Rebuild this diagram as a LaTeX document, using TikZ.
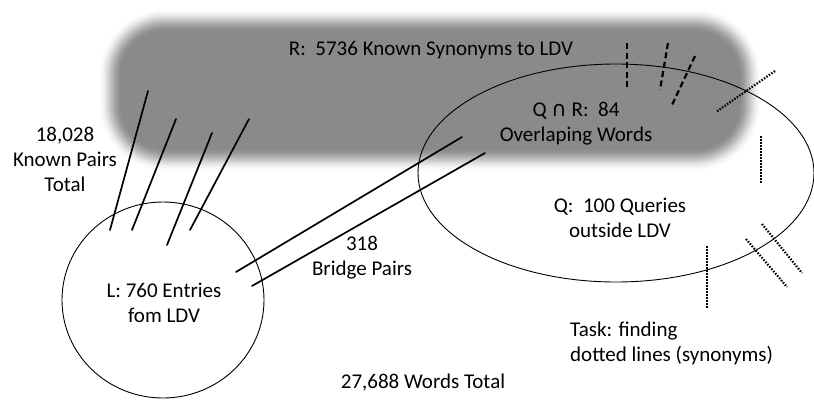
\documentclass[tikz,border=0pt]{standalone}
\usepackage{fontspec}
\setmainfont{Carlito}
\newfontfamily\symfont{DejaVu Sans}

\begin{document}
\begin{tikzpicture}[x=1pt, y=-1pt,
    lbl/.style={font=\fontsize{21}{25}\selectfont, align=center, inner sep=0pt},
    setline/.style={line width=0.9pt},
    pairline/.style={line width=1.7pt, line cap=round},
    knownline/.style={line width=2.2pt, dash pattern=on 6pt off 3.5pt},
    taskline/.style={line width=2.2pt, dash pattern=on 1.5pt off 1.5pt}]
  \useasboundingbox (0,0) rectangle (814,402);

  % R: known synonyms (soft grey band)
  \foreach \k [evaluate=\k as \p using 46*(\k/24)^2*(3-2*\k/24),
               evaluate=\k as \r using 67-\k] in {0,...,24}
    \fill[black!\p, rounded corners=\r pt] (98+\k,8+\k) rectangle (762-\k,172-\k);
  \node[lbl] (rtxt) at (431,50) {R:\ \ 5736 Known Synonyms to LDV};

  % L and Q sets
  \draw[setline] (163,300) ellipse [x radius=101, y radius=98];
  \draw[setline] (616,173) ellipse [x radius=198, y radius=109];

  % Known pairs
  \draw[pairline] (148,91) -- (110,230);
  \draw[pairline] (176,119) -- (132,230);
  \draw[pairline] (212,133) -- (167,245);
  \draw[pairline] (249,119) -- (190,230);

  % Bridge pairs
  \draw[pairline] (462,137) -- (236,272);
  \draw[pairline] (485,153) -- (252,286);

  % Overlap pairs
  \draw[knownline] (627,43) -- (627,90);
  \draw[knownline] (668,43) -- (660,90);
  \draw[knownline] (695,56) -- (672,105);

  % Task pairs
  \draw[taskline] (775,71) -- (716,112);
  \draw[taskline] (761,136) -- (761,183);
  \draw[taskline] (707,246) -- (707,309);
  \draw[taskline] (746,239) -- (787,287);
  \draw[taskline] (762,224) -- (802,273);

  % Labels
  \node[lbl] (total) at (65,159) {18,028\\Known Pairs\\Total};
  \node[lbl] (ltxt) at (164,303) {L: 760 Entries\\fom LDV};
  \node[lbl] (qr) at (576,124) {Q {\symfont ∩} R:\ \ 84\\Overlaping Words};
  \node[lbl] (qtxt) at (620,218) {Q:\ \ 100 Queries\\outside LDV};
  \node[lbl] (bridge) at (362,258) {318\\Bridge Pairs};
  \node[lbl, align=left, anchor=west] (task) at (570,343) {Task: finding\\dotted lines (synonyms)};
  \node[lbl] (words) at (423,383) {27,688 Words Total};
\end{tikzpicture}
\end{document}
